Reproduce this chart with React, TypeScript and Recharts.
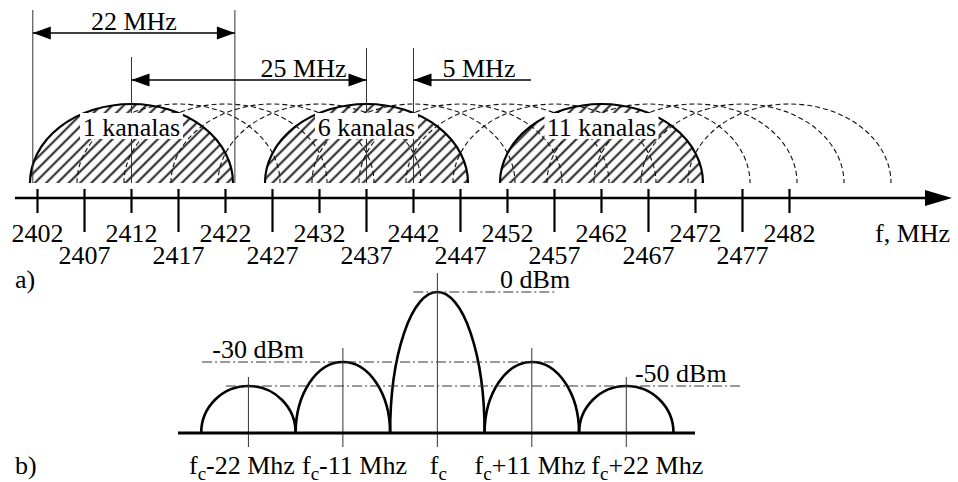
import React from "react";
import {
  ComposedChart,
  XAxis,
  YAxis,
  ReferenceArea,
  ReferenceLine,
  ReferenceDot,
} from "recharts";

const FONT = "'Liberation Serif', 'Times New Roman', Times, serif";
const txt = { fontFamily: FONT, fontSize: 26 };

// a) 2.4 GHz band, channel plan
const freqTicks = [
  2402, 2407, 2412, 2417, 2422, 2427, 2432, 2437, 2442, 2447, 2452, 2457,
  2462, 2467, 2472, 2477, 2482,
];
const mainChannels = [2412, 2437, 2462];
const mainChannelNames = ["1 kanalas", "6 kanalas", "11 kanalas"];
const otherChannels = [
  2417, 2422, 2427, 2432, 2442, 2447, 2452, 2457, 2467, 2472, 2477, 2482,
];
const channelHalfBand = 10.8;
const arcFloor = 15;
const arcPeak = 94;
const channelNameLevel = 62;

// dimension arrows
const spanFrom = [2401.5, 2412, 2442];
const spanTo = [2423, 2437, 2454.5];
const spanLevel = [165, 118, 118];
const spanText = ["22 MHz", "25 MHz", "5 MHz"];

// extension lines of the dimensions
const guideFreqs = [2401.5, 2423, 2412, 2437, 2442];
const guideTops = [188, 188, 141, 150, 150];

// b) spectrum mask
const lobeOffsets = [-22, -11, 0, 11, 22];
const lobeLevels = [47, 71, 141, 71, 47];
const lobeGuideTops = [56, 85, 160, 85, 56];
const lobeHalfBand = 5.5;
const lobeTickNames = ["-22 Mhz", "-11 Mhz", "", "+11 Mhz", "+22 Mhz"];

const dbmNames = ["0 dBm", "-30 dBm", "-50 dBm"];
const dbmLevels = [141, 71, 47];
const dbmLineFrom = [-2.8, -27.4, -24.6];
const dbmLineTo = [13.7, 13.5, 35.5];
const dbmTextAt = [7.3, -26.2, 23.0];

// label nudges (px) for the lower axis, as in the original drawing
const lobeTickShift = [-6.5, 11.6, 1, -1.8, 21];

const head = (tx: number, ty: number, dir: number, len = 18, half = 6.5) =>
  `M${tx},${ty} L${tx - dir * len},${ty - half} L${tx - dir * len},${ty + half} Z`;

const arcShape = (hatched: boolean) => (p: any) => {
  const { x, y, width, height } = p;
  const b = y + height;
  const d = `M${x},${b} A${width / 2},${height} 0 0 1 ${x + width},${b}`;
  if (!hatched) {
    return (
      <path d={d} fill="none" stroke="#111" strokeWidth={1.1} strokeDasharray="5 3" />
    );
  }
  const id = `hatch-${Math.round(x)}`;
  return (
    <g>
      <defs>
        <pattern
          id={id}
          width={8}
          height={8}
          patternUnits="userSpaceOnUse"
          patternTransform="rotate(45)"
        >
          <line x1={2} y1={0} x2={2} y2={8} stroke="#3a3a3a" strokeWidth={2.3} />
        </pattern>
      </defs>
      <path d={d + " Z"} fill={`url(#${id})`} stroke="none" />
      <path d={d} fill="none" stroke="#000" strokeWidth={2.2} />
    </g>
  );
};

const lobeShape = (p: any) => {
  const { x, y, width, height } = p;
  const b = y + height;
  return (
    <path
      d={`M${x},${b} A${width / 2},${height} 0 0 1 ${x + width},${b}`}
      fill="none"
      stroke="#000"
      strokeWidth={2.6}
    />
  );
};

const spanShape = (i: number) => (p: any) => {
  const { x1, y1, x2, y2 } = p;
  const heads = [
    [true, true],
    [true, true],
    [true, false],
  ][i];
  let tx = (x1 + x2) / 2;
  let anchor: any = "middle";
  if (i === 1) {
    tx = x2 - 20;
    anchor = "end";
  }
  if (i === 2) {
    tx = x1 + 29;
    anchor = "start";
  }
  return (
    <g>
      <line x1={x1} y1={y1} x2={x2} y2={y2} stroke="#000" strokeWidth={1.3} />
      {heads[0] && <path d={head(x1, y1, -1)} fill="#000" />}
      {heads[1] && <path d={head(x2, y2, 1)} fill="#000" />}
      <text x={tx} y={y1 - 3} textAnchor={anchor} style={txt}>
        {spanText[i]}
      </text>
    </g>
  );
};

const axisArrowShape = (p: any) => {
  const { x1, y1, x2, y2 } = p;
  return (
    <g>
      <line x1={x1} y1={y1} x2={x2 - 20} y2={y2} stroke="#000" strokeWidth={2.6} />
      <path d={head(x2, y2, 1, 27, 8)} fill="#000" />
    </g>
  );
};

const guideShape = (p: any) => (
  <line x1={p.x1} y1={p.y1} x2={p.x2} y2={p.y2} stroke="#333" strokeWidth={1} />
);

const dashDotShape = (p: any) => (
  <line
    x1={p.x1}
    y1={p.y1}
    x2={p.x2}
    y2={p.y2}
    stroke="#333"
    strokeWidth={1}
    strokeDasharray="10 3 2 3"
  />
);

const channelNameShape = (i: number) => (p: any) => {
  const name = mainChannelNames[i];
  const w = name.length * 11 + 4;
  return (
    <g>
      <rect x={p.cx - w / 2} y={p.cy - 23} width={w} height={26} fill="#fff" />
      <text x={p.cx} y={p.cy} textAnchor="middle" style={txt}>
        {name}
      </text>
    </g>
  );
};

const dbmTextShape = (i: number) => (p: any) => (
  <text x={p.cx} y={p.cy - 4} style={txt}>
    {dbmNames[i]}
  </text>
);

const FreqTick = (props: any) => {
  const { x, y, payload } = props;
  const long = Math.round((payload.value - 2402) / 5) % 2 === 1;
  return (
    <g>
      <line x1={x} x2={x} y1={y - 9} y2={y + (long ? 34 : 15)} stroke="#000" strokeWidth={2.2} />
      <text x={x} y={y + (long ? 66 : 44)} textAnchor="middle" style={txt}>
        {payload.value}
      </text>
    </g>
  );
};

const OffsetTick = (props: any) => {
  const { x, y, payload } = props;
  const i = lobeOffsets.indexOf(payload.value);
  return (
    <text x={x + lobeTickShift[i]} y={y + 41} textAnchor="middle" style={txt}>
      f
      <tspan fontSize={19} dy={6}>
        c
      </tspan>
      <tspan dy={-6}>{lobeTickNames[i]}</tspan>
    </text>
  );
};

const freqRows = freqTicks.map((f) => ({ f }));
const lobeRows = lobeOffsets.map((o, i) => ({ o, level: lobeLevels[i] }));

export default function App() {
  return (
    <div
      style={{
        position: "absolute",
        left: 0,
        top: 0,
        width: 958,
        height: 482,
        background: "#fff",
        fontFamily: FONT,
      }}
    >
      <div style={{ position: "absolute", left: 0, top: 0 }}>
        <ComposedChart
          width={958}
          height={290}
          data={freqRows}
          margin={{ top: 0, right: 6, bottom: 62, left: 14 }}
        >
          <XAxis
            dataKey="f"
            type="number"
            domain={[2399.5, 2499.29]}
            allowDataOverflow
            ticks={freqTicks}
            interval={0}
            height={30}
            axisLine={false}
            tickLine={false}
            tickSize={0}
            tickMargin={0}
            tick={<FreqTick />}
          />
          <YAxis hide type="number" domain={[0, 198]} allowDataOverflow />

          {mainChannels.map((c) => (
            <ReferenceArea
              key={`m${c}`}
              x1={c - channelHalfBand}
              x2={c + channelHalfBand}
              y1={arcFloor}
              y2={arcPeak}
              shape={arcShape(true)}
            />
          ))}
          {otherChannels.map((c) => (
            <ReferenceArea
              key={`o${c}`}
              x1={c - channelHalfBand}
              x2={c + channelHalfBand}
              y1={arcFloor}
              y2={arcPeak}
              shape={arcShape(false)}
            />
          ))}

          {guideFreqs.map((f, i) => (
            <ReferenceLine
              key={`g${i}`}
              segment={[
                { x: f, y: arcFloor },
                { x: f, y: guideTops[i] },
              ]}
              shape={guideShape}
              ifOverflow="visible"
            />
          ))}
          {spanText.map((t, i) => (
            <ReferenceLine
              key={t}
              segment={[
                { x: spanFrom[i], y: spanLevel[i] },
                { x: spanTo[i], y: spanLevel[i] },
              ]}
              shape={spanShape(i)}
              ifOverflow="visible"
            />
          ))}

          <ReferenceLine
            segment={[
              { x: 2399.6, y: 0 },
              { x: 2499.29, y: 0 },
            ]}
            shape={axisArrowShape}
            ifOverflow="visible"
          />

          {mainChannels.map((c, i) => (
            <ReferenceDot
              key={`n${c}`}
              x={c}
              y={channelNameLevel}
              r={0}
              shape={channelNameShape(i)}
              ifOverflow="visible"
            />
          ))}
        </ComposedChart>
      </div>

      <div style={{ position: "absolute", left: 0, top: 246 }}>
        <ComposedChart
          width={958}
          height={236}
          data={lobeRows}
          margin={{ top: 24, right: 263, bottom: 19, left: 178 }}
        >
          <XAxis
            dataKey="o"
            type="number"
            domain={[-30.2, 30]}
            allowDataOverflow
            ticks={lobeOffsets}
            interval={0}
            height={30}
            axisLine={{ stroke: "#000", strokeWidth: 3 }}
            tickLine={false}
            tickSize={0}
            tickMargin={0}
            tick={<OffsetTick />}
          />
          <YAxis hide type="number" domain={[0, 163]} allowDataOverflow />

          {dbmNames.map((n, i) => (
            <ReferenceLine
              key={`d${n}`}
              segment={[
                { x: dbmLineFrom[i], y: dbmLevels[i] },
                { x: dbmLineTo[i], y: dbmLevels[i] },
              ]}
              shape={dashDotShape}
              ifOverflow="visible"
            />
          ))}

          {lobeOffsets.map((o, i) => (
            <ReferenceLine
              key={`v${o}`}
              segment={[
                { x: o, y: -14 },
                { x: o, y: lobeGuideTops[i] },
              ]}
              shape={guideShape}
              ifOverflow="visible"
            />
          ))}

          {lobeOffsets.map((o, i) => (
            <ReferenceArea
              key={`l${o}`}
              x1={o - lobeHalfBand}
              x2={o + lobeHalfBand}
              y1={0}
              y2={lobeLevels[i]}
              shape={lobeShape}
            />
          ))}

          {dbmNames.map((n, i) => (
            <ReferenceDot
              key={`t${n}`}
              x={dbmTextAt[i]}
              y={dbmLevels[i]}
              r={0}
              shape={dbmTextShape(i)}
              ifOverflow="visible"
            />
          ))}
        </ComposedChart>
      </div>

      <svg
        width={958}
        height={482}
        style={{ position: "absolute", left: 0, top: 0, pointerEvents: "none" }}
      >
        <text x={875} y={242} style={txt}>
          f, MHz
        </text>
        <text x={15} y={288} style={txt}>
          a)
        </text>
        <text x={15} y={474} style={txt}>
          b)
        </text>
      </svg>
    </div>
  );
}
